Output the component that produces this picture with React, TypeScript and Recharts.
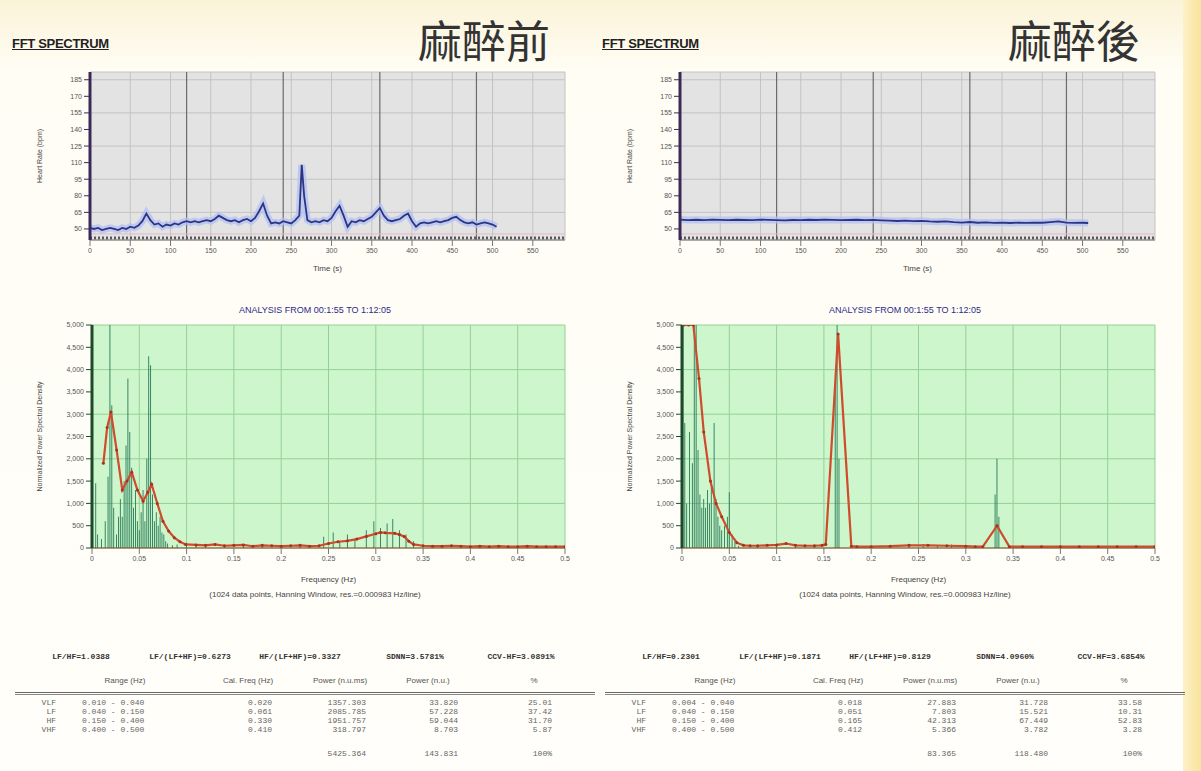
import React from 'react';
import {
  LineChart, Line, XAxis, YAxis, CartesianGrid, ReferenceLine, ComposedChart, Bar,
} from 'recharts';

// ---------- time-series data (heart rate vs time) ----------
const timeTicks = [0, 50, 100, 150, 200, 250, 300, 350, 400, 450, 500, 550];
const hrTicks = [50, 65, 80, 95, 110, 125, 140, 155, 170, 185];
const majorTimes = [120, 240, 360, 480];

const beforeTime = [0,5,10,15,20,25,30,35,40,45,50,55,60,65,70,75,80,85,90,95,100,105,110,115,120,125,130,135,140,145,150,155,160,165,170,175,180,185,190,195,200,205,210,215,220,225,230,235,240,245,250,255,260,263,266,270,275,280,285,290,295,300,305,310,315,320,325,330,335,340,345,350,355,360,365,370,375,380,385,390,395,400,405,410,415,420,425,430,435,440,445,450,455,460,465,470,475,480,485,490,495,500,505];
const beforeHR = [51,50,51,49,50,51,50,49,51,50,52,51,53,57,64,58,54,55,52,54,53,55,54,56,57,56,57,56,57,58,57,59,62,60,58,57,58,56,58,59,57,60,66,73,62,55,56,55,57,56,55,58,62,108,80,58,56,57,56,58,57,60,66,71,62,52,57,56,58,57,59,61,65,69,62,58,57,58,59,62,64,57,52,55,56,55,56,57,56,57,58,60,61,58,56,55,56,54,55,56,55,54,52];

const afterTime = [0,10,20,30,40,50,60,70,80,90,100,110,120,130,140,150,160,170,180,190,200,210,220,230,240,250,260,270,280,290,300,310,320,330,340,350,360,370,380,390,400,410,420,430,440,450,460,470,480,490,500,507];
const afterHR = [58.5,58,58.3,58,58.4,58.2,58,58.3,58.1,58,58.4,58.2,58,57.8,58.1,58,58.3,58.1,58.4,58.2,58,58.1,58.3,58,58.2,57.8,57.5,57.2,57.6,57,57.3,56.8,56.5,56.9,56.2,55.8,56.3,55.6,55.9,55.5,55.8,55.4,55.7,55.5,55.8,55.6,56.2,56.8,55.7,55.5,55.6,55.4];

// ---------- spectrum data ----------
const freqTicks = [0, 0.05, 0.1, 0.15, 0.2, 0.25, 0.3, 0.35, 0.4, 0.45, 0.5];
const powerTicks = [0, 500, 1000, 1500, 2000, 2500, 3000, 3500, 4000, 4500, 5000];

const beforeBarF = [0.004,0.006,0.010,0.014,0.017,0.019,0.021,0.023,0.026,0.028,0.030,0.032,0.034,0.036,0.038,0.040,0.042,0.044,0.046,0.048,0.050,0.052,0.054,0.056,0.058,0.060,0.062,0.064,0.066,0.068,0.070,0.072,0.074,0.076,0.078,0.080,0.085,0.090,0.100,0.110,0.120,0.140,0.160,0.180,0.200,0.220,0.245,0.255,0.262,0.270,0.278,0.290,0.298,0.305,0.312,0.318,0.325,0.332,0.340];
const beforeBarP = [1450,300,200,600,1600,5000,3200,900,300,700,1100,700,1500,2300,3800,2600,1800,900,1300,600,400,800,1300,600,2000,4300,4100,1200,600,800,500,700,350,300,150,100,60,80,120,90,60,40,60,90,50,40,250,350,150,300,200,400,600,450,550,650,400,300,150];
const beforeSmoothF = [0.012,0.016,0.020,0.026,0.032,0.037,0.042,0.048,0.054,0.059,0.063,0.069,0.075,0.081,0.087,0.093,0.099,0.11,0.12,0.13,0.14,0.15,0.16,0.17,0.18,0.19,0.20,0.21,0.22,0.23,0.24,0.25,0.26,0.27,0.28,0.29,0.30,0.305,0.31,0.32,0.325,0.33,0.335,0.34,0.35,0.36,0.37,0.38,0.39,0.40,0.41,0.42,0.43,0.44,0.45,0.46,0.47,0.48,0.49,0.50];
const beforeSmoothP = [1900,2700,3050,2200,1300,1500,1700,1300,1050,1250,1430,1000,600,380,230,140,80,70,60,80,50,60,70,40,60,50,40,50,60,40,50,100,140,160,200,260,320,350,340,330,300,260,150,80,50,40,40,50,40,30,40,30,40,30,30,40,30,30,30,30];

const afterBarF = [0.001,0.003,0.005,0.008,0.011,0.013,0.015,0.017,0.019,0.021,0.023,0.025,0.027,0.029,0.031,0.034,0.036,0.038,0.040,0.042,0.045,0.048,0.050,0.053,0.056,0.060,0.080,0.100,0.120,0.140,0.162,0.164,0.166,0.200,0.240,0.255,0.270,0.285,0.331,0.333,0.335,0.380,0.420];
const afterBarP = [5000,2800,1000,2600,1900,5000,5000,2200,1200,900,1100,900,1300,1000,1500,2800,1100,700,500,400,500,700,1250,300,150,50,40,60,50,30,3600,5000,2000,40,60,90,70,80,1200,2000,700,30,30];
const afterSmoothF = [0.002,0.007,0.012,0.018,0.023,0.030,0.036,0.042,0.050,0.058,0.065,0.072,0.080,0.090,0.100,0.110,0.120,0.130,0.140,0.148,0.152,0.165,0.179,0.185,0.20,0.22,0.24,0.26,0.28,0.30,0.31,0.318,0.333,0.346,0.36,0.38,0.40,0.42,0.44,0.46,0.48,0.50];
const afterSmoothP = [5000,5000,5000,3800,2600,1500,1000,700,350,120,60,50,50,60,70,100,60,50,50,60,80,4800,40,30,30,40,60,60,50,40,30,30,500,30,30,30,30,30,30,30,30,30];

// ---------- table data ----------
const beforeRatios = ['LF/HF=1.0388', 'LF/(LF+HF)=0.6273', 'HF/(LF+HF)=0.3327', 'SDNN=3.5781%', 'CCV-HF=3.0891%'];
const afterRatios = ['LF/HF=0.2301', 'LF/(LF+HF)=0.1871', 'HF/(LF+HF)=0.8129', 'SDNN=4.0960%', 'CCV-HF=3.6854%'];
const columnHeads = ['Range (Hz)', 'Cal. Freq (Hz)', 'Power (n.u.ms)', 'Power (n.u.)', '%'];
const bandNames = ['VLF', 'LF', 'HF', 'VHF'];
const beforeRanges = ['0.010 - 0.040', '0.040 - 0.150', '0.150 - 0.400', '0.400 - 0.500'];
const afterRanges = ['0.004 - 0.040', '0.040 - 0.150', '0.150 - 0.400', '0.400 - 0.500'];
const beforeCal = ['0.020', '0.061', '0.330', '0.410'];
const afterCal = ['0.018', '0.051', '0.165', '0.412'];
const beforePow = ['1357.303', '2085.785', '1951.757', '318.797'];
const afterPow = ['27.883', '7.803', '42.313', '5.366'];
const beforeNu = ['33.820', '57.228', '59.044', '8.703'];
const afterNu = ['31.728', '15.521', '67.449', '3.782'];
const beforePct = ['25.01', '37.42', '31.70', '5.87'];
const afterPct = ['33.58', '10.31', '52.83', '3.28'];
const beforeTotal = ['5425.364', '143.831', '100%'];
const afterTotal = ['83.365', '118.480', '100%'];

const FONT = '"Liberation Sans", Arial, sans-serif';
const MONO = '"Liberation Mono", "DejaVu Sans Mono", monospace';

function zip(xs: number[], ys: number[], kx: string, ky: string) {
  return xs.map((x, i) => ({ [kx]: x, [ky]: ys[i] }));
}

function mergeSpectrum(bf: number[], bp: number[], sf: number[], sp: number[]) {
  const rows: any[] = [];
  bf.forEach((f, i) => rows.push({ f, p: bp[i] }));
  sf.forEach((f, i) => rows.push({ f, s: sp[i] }));
  rows.sort((a, b) => a.f - b.f);
  return rows;
}

const tickStyle = { fontSize: 7, fill: '#555', fontFamily: FONT };

function TimeChart({ dx, t, hr }: { dx: number; t: number[]; hr: number[] }) {
  const data = zip(t, hr, 't', 'hr');
  return (
    <div style={{ position: 'absolute', left: dx + 20, top: 62 }}>
      <LineChart width={560} height={215} data={data} margin={{ top: 10, right: 15, left: 10, bottom: 0 }}>
        <CartesianGrid fill="#e3e3e3" stroke="#c3c3c3" strokeWidth={1} />
        <XAxis
          type="number" dataKey="t" domain={[0, 590]} ticks={timeTicks} height={37}
          tick={tickStyle} tickLine={{ stroke: '#777' }} axisLine={{ stroke: '#777' }}
          label={{ value: 'Time (s)', position: 'insideBottom', offset: 6, style: { fontSize: 8, fill: '#444', fontFamily: FONT } }}
        />
        <YAxis
          type="number" domain={[40, 192]} ticks={hrTicks} width={60} allowDataOverflow
          tick={tickStyle} tickLine={{ stroke: '#3b2a58' }} axisLine={{ stroke: '#3b2a58', strokeWidth: 3 }}
          label={{ value: 'Heart Rate (bpm)', angle: -90, position: 'insideLeft', offset: 10, style: { fontSize: 7, fill: '#444', fontFamily: FONT, textAnchor: 'middle' } }}
        />
        {majorTimes.map((m) => (
          <ReferenceLine key={m} x={m} stroke="#6b6b6b" strokeWidth={1.2} />
        ))}
        <ReferenceLine y={45.5} stroke="#e6b9c6" strokeWidth={1} />
        <ReferenceLine y={41.8} stroke="#5a5a5a" strokeWidth={3} strokeDasharray="2 2" />
        <Line type="linear" dataKey="hr" stroke="#b3c0f3" strokeWidth={7} strokeOpacity={0.75} dot={false} isAnimationActive={false} />
        <Line type="linear" dataKey="hr" stroke="#2b3584" strokeWidth={1.8} dot={false} isAnimationActive={false} />
      </LineChart>
    </div>
  );
}

function SpectrumChart({ dx, bf, bp, sf, sp }: { dx: number; bf: number[]; bp: number[]; sf: number[]; sp: number[] }) {
  const data = mergeSpectrum(bf, bp, sf, sp);
  return (
    <div style={{ position: 'absolute', left: dx + 20, top: 300 }}>
      <ComposedChart width={560} height={286} data={data} margin={{ top: 25, right: 15, left: 20, bottom: 0 }}>
        <CartesianGrid fill="#cdf6cd" stroke="#95d195" strokeWidth={1} />
        <XAxis
          type="number" dataKey="f" domain={[0, 0.5]} ticks={freqTicks} height={38} allowDataOverflow
          tick={tickStyle} tickLine={{ stroke: '#777' }} axisLine={{ stroke: '#8a4a2a' }}
          tickFormatter={(v: number) => String(v)}
          label={{ value: 'Frequency (Hz)', position: 'insideBottom', offset: 4, style: { fontSize: 8, fill: '#444', fontFamily: FONT } }}
        />
        <YAxis
          type="number" domain={[0, 5000]} ticks={powerTicks} width={52} allowDataOverflow
          tick={tickStyle} tickLine={{ stroke: '#1c4a2a' }} axisLine={{ stroke: '#1c4a2a', strokeWidth: 3 }}
          tickFormatter={(v: number) => v.toLocaleString('en-US')}
          label={{ value: 'Normalized Power Spectral Density', angle: -90, position: 'insideLeft', offset: 0, style: { fontSize: 7, fill: '#444', fontFamily: FONT, textAnchor: 'middle' } }}
        />
        <Bar dataKey="p" fill="#1f7350" barSize={3} isAnimationActive={false} />
        <Line
          type="linear" dataKey="s" stroke="#d04b2c" strokeWidth={2.2} connectNulls
          dot={{ r: 1.5, fill: '#a8321e', stroke: 'none' }} isAnimationActive={false}
        />
      </ComposedChart>
    </div>
  );
}

function Table({ dx, ratios, ranges, cal, pow, nu, pct, total }: any) {
  const txt = (x: number, y: number, s: string, align: 'left' | 'center' | 'right', extra: any = {}) => {
    const style: any = {
      position: 'absolute', top: y - 5, fontFamily: MONO, fontSize: 8, color: '#666', whiteSpace: 'nowrap', lineHeight: '10px', ...extra,
    };
    if (align === 'left') style.left = dx + x;
    if (align === 'right') style.right = 1201 - (dx + x);
    if (align === 'center') { style.left = dx + x - 100; style.width = 200; style.textAlign = 'center'; }
    return <div key={`${x}-${y}-${s}`} style={style}>{s}</div>;
  };
  const headerX = [81, 190, 300, 415, 521];
  const colX = [125, 248, 340, 428, 534];
  const rowY = [703, 712, 721, 730];
  const out: any[] = [];
  ratios.forEach((r: string, i: number) => out.push(txt(headerX[i], 657, r, 'center', { color: '#333', fontWeight: 'bold' })));
  columnHeads.forEach((c: string, i: number) => out.push(txt(colX[i], 681, c, 'center', { color: '#555', fontFamily: FONT })));
  bandNames.forEach((b: string, i: number) => {
    out.push(txt(56, rowY[i], b, 'right'));
    out.push(txt(82, rowY[i], ranges[i], 'left'));
    out.push(txt(272, rowY[i], cal[i], 'right'));
    out.push(txt(366, rowY[i], pow[i], 'right'));
    out.push(txt(458, rowY[i], nu[i], 'right'));
    out.push(txt(552, rowY[i], pct[i], 'right'));
  });
  out.push(txt(366, 754, total[0], 'right'));
  out.push(txt(458, 754, total[1], 'right'));
  out.push(txt(552, 754, total[2], 'right'));
  return (
    <>
      {out}
      <div style={{ position: 'absolute', left: dx + 15, top: 692, width: 580, height: 0, borderTop: '1px solid #666', borderBottom: '1px solid #888', paddingTop: 1 }} />
    </>
  );
}

function Headings({ dx, label }: { dx: number; label: string }) {
  return (
    <>
      <div style={{ position: 'absolute', left: dx + 12, top: 36, fontFamily: FONT, fontWeight: 'bold', fontSize: 13, color: '#222', textDecoration: 'underline', letterSpacing: '-0.3px' }}>
        FFT SPECTRUM
      </div>
      <div style={{ position: 'absolute', left: dx + 418, top: 10, fontFamily: '"Noto Sans CJK TC", "Noto Sans CJK JP", sans-serif', fontSize: 44, color: '#333', lineHeight: '58px' }}>
        {label}
      </div>
      <div style={{ position: 'absolute', left: dx + 115, width: 400, top: 305, textAlign: 'center', fontFamily: FONT, fontSize: 9, color: '#2a2a8a' }}>
        ANALYSIS FROM 00:1:55 TO 1:12:05
      </div>
      <div style={{ position: 'absolute', left: dx + 115, width: 400, top: 590, textAlign: 'center', fontFamily: FONT, fontSize: 8, color: '#444' }}>
        (1024 data points, Hanning Window, res.=0.000983 Hz/line)
      </div>
    </>
  );
}

export default function App() {
  return (
    <div style={{
      position: 'absolute', left: 0, top: 0, width: 1201, height: 771, overflow: 'hidden',
      background: 'linear-gradient(to bottom, #fbf3d8 0px, #fffdf4 70px, #fffefa 771px)',
    }}>
      <div style={{ position: 'absolute', left: 1183, top: 0, width: 18, height: 771, background: 'linear-gradient(to right, #fdf1c8, #f7e39a)' }} />
      <Headings dx={0} label="麻醉前" />
      <Headings dx={590} label="麻醉後" />
      <TimeChart dx={0} t={beforeTime} hr={beforeHR} />
      <TimeChart dx={590} t={afterTime} hr={afterHR} />
      <SpectrumChart dx={0} bf={beforeBarF} bp={beforeBarP} sf={beforeSmoothF} sp={beforeSmoothP} />
      <SpectrumChart dx={590} bf={afterBarF} bp={afterBarP} sf={afterSmoothF} sp={afterSmoothP} />
      <Table dx={0} ratios={beforeRatios} ranges={beforeRanges} cal={beforeCal} pow={beforePow} nu={beforeNu} pct={beforePct} total={beforeTotal} />
      <Table dx={590} ratios={afterRatios} ranges={afterRanges} cal={afterCal} pow={afterPow} nu={afterNu} pct={afterPct} total={afterTotal} />
    </div>
  );
}
